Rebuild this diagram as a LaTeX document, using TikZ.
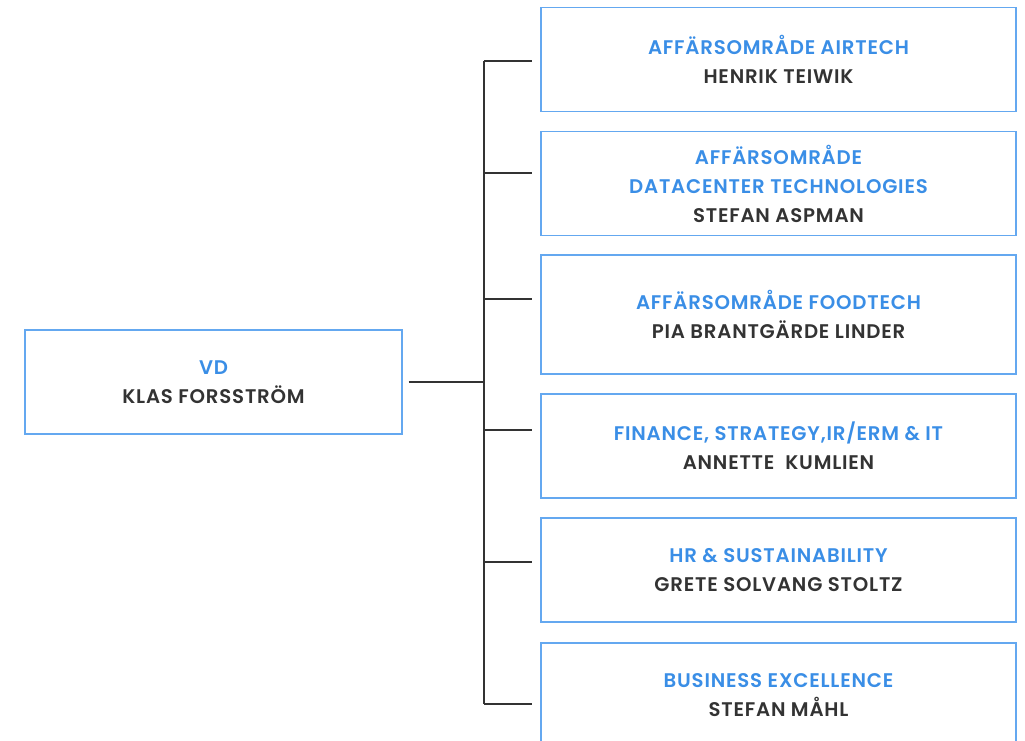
\documentclass[tikz,border=0pt]{standalone}
\usepackage{fontspec}
\setmainfont{Poppins}[UprightFont={* SemiBold}, LetterSpace=4]
\definecolor{hdblue}{HTML}{3A8EE6}
\definecolor{boxblue}{HTML}{64A8F0}
\definecolor{darktxt}{HTML}{333333}
\tikzset{
  orgbox/.style={draw=boxblue, line width=1.1pt, inner sep=0pt, minimum width=356.25pt, minimum height=78pt, align=center, font=\fontsize{14.8pt}{21.75pt}\selectfont, text=darktxt},
  vdbox/.style={orgbox, minimum width=282.75pt},
  link/.style={draw=darktxt, line width=1.1pt},
}
\newcommand{\hd}[1]{\textcolor{hdblue}{#1}}
\begin{document}
\begin{tikzpicture}[x=0.75pt, y=-0.75pt]
\useasboundingbox (0,0) rectangle (1025,740);
\node[vdbox] (vd) at (213.5,382) {\hd{VD}\\KLAS FORSSTRÖM};
\node[orgbox] (b1) at (778.5,59.5) {\hd{AFFÄRSOMRÅDE AIRTECH}\\HENRIK TEIWIK};
\node[orgbox] (b2) at (778.5,183.5) {\hd{AFFÄRSOMRÅDE}\\\hd{DATACENTER TECHNOLOGIES}\\STEFAN ASPMAN};
\node[orgbox, minimum height=89.25pt] (b3) at (778.5,314.5) {\hd{AFFÄRSOMRÅDE FOODTECH}\\PIA BRANTGÄRDE LINDER};
\node[orgbox] (b4) at (778.5,446) {\hd{FINANCE, STRATEGY,IR/ERM \& IT}\\ANNETTE\ \ KUMLIEN};
\node[orgbox] (b5) at (778.5,570) {\hd{HR \& SUSTAINABILITY}\\GRETE SOLVANG STOLTZ};
\node[orgbox] (b6) at (778.5,695) {\hd{BUSINESS EXCELLENCE}\\STEFAN MÅHL};
\coordinate (hub) at (484,382);
\coordinate (j1) at (484,61);
\coordinate (j2) at (484,173);
\coordinate (j3) at (484,299);
\coordinate (j4) at (484,430);
\coordinate (j5) at (484,562);
\coordinate (j6) at (484,704);
\draw[link, shorten <=4.5pt] (vd.east |- hub) -- (hub);
\draw[link] (j1) -- (j6);
\foreach \j/\b in {j1/b1,j2/b2,j3/b3,j4/b4,j5/b5,j6/b6}
  \draw[link, shorten >=6pt] (\j) -- (\j -| \b.west);
\end{tikzpicture}
\end{document}
